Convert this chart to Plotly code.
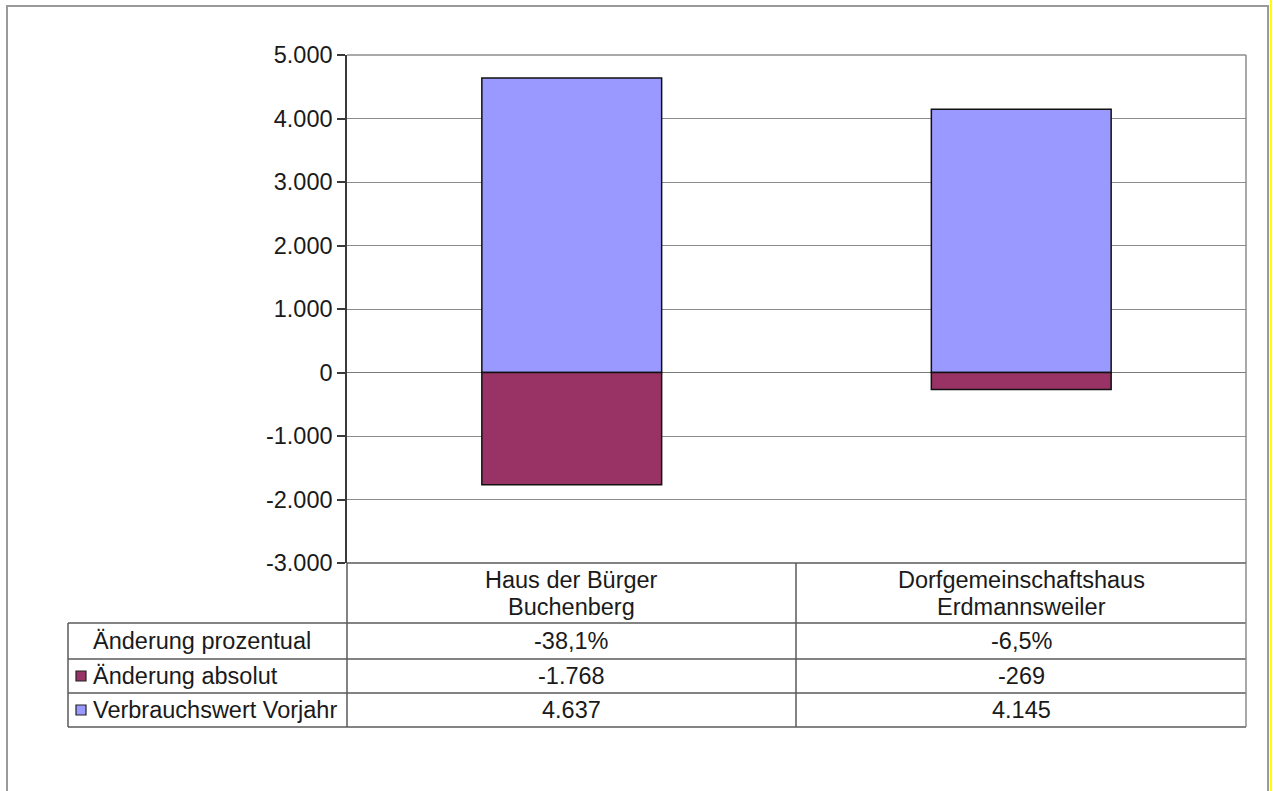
"""
Verbrauchsvergleich: Änderung absolut vs. Verbrauchswert Vorjahr, mit Datentabelle.
"""
import plotly.graph_objects as go

W, H = 1274, 791
# plot area in pixels
PL, PR, PT, PB = 347, 1246, 55, 563

categories = ["Haus der Bürger<br>Buchenberg", "Dorfgemeinschaftshaus<br>Erdmannsweiler"]
series_names = ["Änderung prozentual", "Änderung absolut", "Verbrauchswert Vorjahr"]
aenderung_prozent = ["-38,1%", "-6,5%"]
aenderung_absolut = [-1768, -269]
verbrauch_vorjahr = [4637, 4145]

ytick_vals = [-3000, -2000, -1000, 0, 1000, 2000, 3000, 4000, 5000]
ytick_text = ["-3.000", "-2.000", "-1.000", "0", "1.000", "2.000", "3.000", "4.000", "5.000"]

COL_BLUE = "#9999FF"
COL_RED = "#993366"
FONT = "Liberation Sans, Arial, sans-serif"
FS = 23.5
TXT = "#1a1a1a"


def fmt_de(v):
    s = f"{abs(v):,}".replace(",", ".")
    return ("-" if v < 0 else "") + s


def px(x):
    return (x - PL) / (PR - PL)


def py(y):
    return (PB - y) / (PB - PT)


fig = go.Figure()
fig.add_trace(go.Bar(
    x=categories, y=verbrauch_vorjahr, name=series_names[2],
    marker=dict(color=COL_BLUE, line=dict(color="#111111", width=1.5)),
    width=0.4,
))
fig.add_trace(go.Bar(
    x=categories, y=aenderung_absolut, name=series_names[1],
    marker=dict(color=COL_RED, line=dict(color="#111111", width=1.5)),
    width=0.4,
))

shapes = []
line_col = "#5a5a5a"


def hline(y, x0, x1, color=line_col, w=1.5):
    shapes.append(dict(type="line", xref="paper", yref="paper",
                       x0=px(x0), x1=px(x1), y0=py(y), y1=py(y),
                       line=dict(color=color, width=w)))


def vline(x, y0, y1, color=line_col, w=1.5):
    shapes.append(dict(type="line", xref="paper", yref="paper",
                       x0=px(x), x1=px(x), y0=py(y0), y1=py(y1),
                       line=dict(color=color, width=w)))


# plot area border (top / right)
hline(PT, PL, PR, color="#8c8c8c")
vline(PR, PT, PB, color="#8c8c8c")

# data table
row_y = [563, 623, 659, 693, 727]
col_x = [68, 347, 796, 1246]
hline(row_y[0], PL, PR)
for y in row_y[1:]:
    hline(y, col_x[0], col_x[-1])
vline(col_x[0], row_y[1], row_y[-1])
vline(col_x[1], row_y[0], row_y[-1])
vline(col_x[2], row_y[0], row_y[-1])
vline(col_x[3], row_y[0], row_y[-1], color="#8c8c8c")

# legend keys in the table
for r, col in [(2, COL_RED), (3, COL_BLUE)]:
    cy = (row_y[r] + row_y[r + 1]) / 2
    shapes.append(dict(type="rect", xref="paper", yref="paper",
                       x0=px(76), x1=px(86), y0=py(cy - 5), y1=py(cy + 5),
                       fillcolor=col, line=dict(color="#222222", width=1.2)))

# outer chart frame
shapes.append(dict(type="rect", xref="paper", yref="paper",
                   x0=px(7), x1=px(1268), y0=py(6), y1=py(800),
                   line=dict(color="#9a9a9a", width=2)))
shapes.append(dict(type="line", xref="paper", yref="paper",
                   x0=px(1271), x1=px(1271), y0=py(0), y1=py(800),
                   line=dict(color="#ffff00", width=2)))

annotations = []
col_cx = [(col_x[1] + col_x[2]) / 2, (col_x[2] + col_x[3]) / 2]


def text(x, y, s, anchor="center"):
    annotations.append(dict(xref="paper", yref="paper", x=px(x), y=py(y), text=s,
                            showarrow=False, xanchor=anchor, yanchor="middle",
                            font=dict(family=FONT, size=FS, color=TXT)))


for i, cat in enumerate(categories):
    # two-line category header, tighter line spacing than plotly's default
    line1, line2 = cat.split("<br>")
    text(col_cx[i], 580, line1)
    text(col_cx[i], 607, line2)
    text(col_cx[i], (row_y[1] + row_y[2]) / 2, aenderung_prozent[i])
    text(col_cx[i], (row_y[2] + row_y[3]) / 2, fmt_de(aenderung_absolut[i]))
    text(col_cx[i], (row_y[3] + row_y[4]) / 2, fmt_de(verbrauch_vorjahr[i]))
for r, name in enumerate(series_names):
    text(91, (row_y[r + 1] + row_y[r + 2]) / 2, name, anchor="left")

fig.update_layout(
    width=W, height=H,
    margin=dict(l=PL, r=W - PR, t=PT, b=H - PB, pad=0),
    paper_bgcolor="white", plot_bgcolor="white",
    barmode="relative",
    showlegend=False,
    font=dict(family=FONT, size=FS, color=TXT),
    xaxis=dict(showticklabels=False, showgrid=False, ticks="", zeroline=False,
               showline=False, fixedrange=True),
    yaxis=dict(range=[-3000, 5000], tickvals=ytick_vals, ticktext=ytick_text,
               showgrid=True, gridcolor="#8c8c8c", gridwidth=1.2,
               zeroline=True, zerolinecolor="#7a7a7a", zerolinewidth=1.2,
               showline=True, linecolor="#3a3a3a", linewidth=1.5,
               ticks="outside", ticklen=8, tickcolor="#3a3a3a", tickwidth=1.5,
               tickfont=dict(family=FONT, size=FS, color=TXT), fixedrange=True),
    shapes=shapes,
    annotations=annotations,
)

fig.write_html("out.html", config={"displayModeBar": False},
               post_script="document.body.style.margin='0';document.body.style.overflow='hidden';")
